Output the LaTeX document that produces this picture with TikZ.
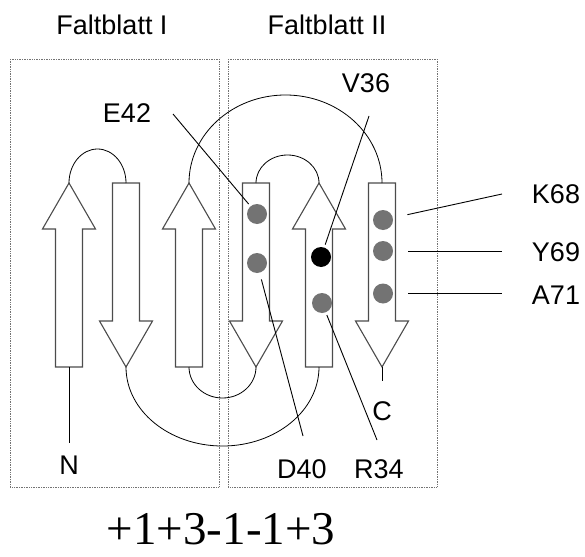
\documentclass[tikz,border=0pt]{standalone}
\usepackage{fontspec}
\setmainfont{Liberation Sans}
\newfontfamily\formulafont{Liberation Serif}

\begin{document}
\begin{tikzpicture}[x=1pt, y=-1pt,
  sheet/.style={draw=black!55, densely dotted, line width=0.7pt},
  strand/.style={draw=black!70, fill=white, line width=1.1pt},
  turn/.style={draw, line width=0.8pt},
  res/.style={circle, fill=black!55, minimum size=20pt, inner sep=0pt, outer sep=3pt},
  pin/.style={draw, line width=0.9pt},
  lbl/.style={font=\fontsize{27}{30}\selectfont, inner sep=0pt, anchor=base}
]
  \useasboundingbox (0,0) rectangle (585,556);

  % the two sheets
  \draw[sheet] (10,59) rectangle (219,487);
  \draw[sheet] (228,59) rectangle (437,487);
  \node[lbl] (title1) at (112,35) {Faltblatt I};
  \node[lbl] (title2) at (327,35) {Faltblatt II};

  % strands pointing up
  \foreach \x/\n in {69/s1, 189/s3, 319/s5} {
    \draw[strand] (\x-13.5,367) -- (\x-13.5,229) -- (\x-26.5,229) -- (\x,183)
      -- (\x+26.5,229) -- (\x+13.5,229) -- (\x+13.5,367) -- cycle;
    \coordinate (\n-top) at (\x,183);
    \coordinate (\n-bot) at (\x,367);
  }
  % strands pointing down
  \foreach \x/\n in {126/s2, 256/s4, 382/s6} {
    \draw[strand] (\x-13.5,183) -- (\x-13.5,321) -- (\x-26.5,321) -- (\x,367)
      -- (\x+26.5,321) -- (\x+13.5,321) -- (\x+13.5,183) -- cycle;
    \coordinate (\n-top) at (\x,183);
    \coordinate (\n-bot) at (\x,367);
  }

  % connections
  \draw[turn] (s1-top) arc[start angle=180, end angle=0, x radius=28.5pt, y radius=34pt];
  \draw[turn] (s2-bot) arc[start angle=180, end angle=360, x radius=96.5pt, y radius=79pt];
  \draw[turn] (s4-top) arc[start angle=180, end angle=0, x radius=31.5pt, y radius=28pt];
  \draw[turn] (s3-bot) arc[start angle=180, end angle=360, x radius=33.5pt, y radius=31pt];
  \draw[turn] (s3-top) arc[start angle=180, end angle=0, x radius=96.5pt, y radius=88pt];

  % termini
  \node[lbl] (nterm) at (69,474) {N};
  \node[lbl] (cterm) at (382,420) {C};
  \draw[turn, shorten >=12pt] (s1-bot) -- (nterm.north);
  \draw[turn, shorten >=20pt] (s6-bot) -- (cterm.north);

  % residues
  \node[res] (e42) at (257,214) {};
  \node[res] (d40) at (257,263) {};
  \node[res, fill=black] (v36) at (321,257) {};
  \node[res] (r34) at (322,303) {};
  \node[res] (k68) at (383,220) {};
  \node[res] (y69) at (383,251) {};
  \node[res] (a71) at (383,293.5) {};

  % residue labels
  \node[lbl] (le42) at (127,123) {E42};
  \node[lbl] (lv36) at (366,93) {V36};
  \node[lbl] (lk68) at (556,203) {K68};
  \node[lbl] (ly69) at (556,261) {Y69};
  \node[lbl] (la71) at (556,304) {A71};
  \node[lbl] (ld40) at (302,478) {D40};
  \node[lbl] (lr34) at (379,478) {R34};
  \coordinate (pe42) at (173,114);
  \coordinate (pv36) at (369,116);
  \coordinate (pk68) at (502,194);
  \coordinate (py69) at (502,251);
  \coordinate (pa71) at (502,293.5);
  \coordinate (pd40) at (303,436);
  \coordinate (pr34) at (377,440);
  \draw[pin] (pe42) -- (e42);
  \draw[pin] (pv36) -- (v36);
  \draw[pin, shorten <=12pt] (k68) -- (pk68);
  \draw[pin, shorten <=12pt] (y69) -- (py69);
  \draw[pin, shorten <=12pt] (a71) -- (pa71);
  \draw[pin, shorten <=4pt] (d40) -- (pd40);
  \draw[pin] (r34) -- (pr34);

  % topology
  \node[font=\formulafont\fontsize{47}{50}\selectfont, inner sep=0pt, anchor=base]
    (topo) at (221,544) {+1+3-1-1+3};
\end{tikzpicture}
\end{document}
